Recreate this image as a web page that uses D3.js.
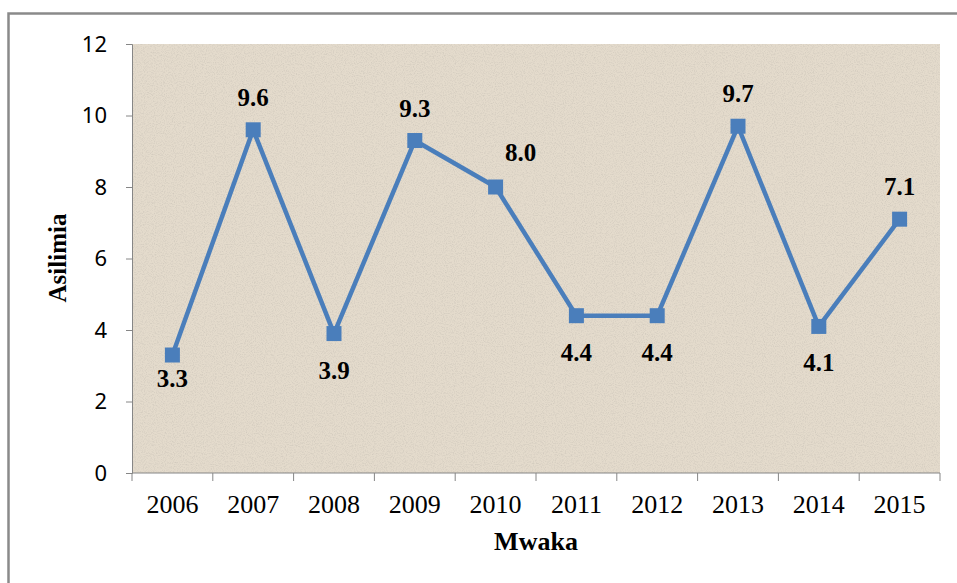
<!DOCTYPE html>
<html>
<head>
<meta charset="utf-8">
<script src="https://cdn.jsdelivr.net/npm/d3@7"></script>
<style>
  body { margin: 0; background: #fff; }
  svg { display: block; }
</style>
</head>
<body>
<div id="chart"></div>
<script>
const width = 957;
const height = 583;

// data
const years = ["2006", "2007", "2008", "2009", "2010", "2011", "2012", "2013", "2014", "2015"];
const values = [3.3, 9.6, 3.9, 9.3, 8.0, 4.4, 4.4, 9.7, 4.1, 7.1];
const labels = ["3.3", "9.6", "3.9", "9.3", "8.0", "4.4", "4.4", "9.7", "4.1", "7.1"];
const labelPos = ["belowNear", "above", "below", "above", "aboveRight", "below", "below", "above", "below", "above"];
const yTicks = [0, 2, 4, 6, 8, 10, 12];

const margin = { left: 132, right: 17, top: 44, bottom: 110 };

const svg = d3.select("#chart")
  .append("svg")
  .attr("width", width)
  .attr("height", height);

// paper texture for the plot area
const defs = svg.append("defs");
const flt = defs.append("filter").attr("id", "grain")
  .attr("x", 0).attr("y", 0).attr("width", 1).attr("height", 1);
flt.append("feTurbulence")
  .attr("type", "fractalNoise")
  .attr("baseFrequency", 0.9)
  .attr("numOctaves", 2)
  .attr("seed", 3)
  .attr("result", "noise");
flt.append("feColorMatrix")
  .attr("in", "noise")
  .attr("type", "matrix")
  .attr("values", "0 0 0 0 0.45  0 0 0 0 0.42  0 0 0 0 0.38  0 0 0 -2.2 1.25")
  .attr("result", "specks");
flt.append("feComposite").attr("in", "specks").attr("in2", "SourceGraphic").attr("operator", "in");

// outer frame
svg.append("rect")
  .attr("x", 8.5).attr("y", 13.5)
  .attr("width", 1000).attr("height", 700)
  .attr("fill", "none")
  .attr("stroke", "#8a8a8a")
  .attr("stroke-width", 2.5);

const x = d3.scaleBand()
  .domain(years)
  .range([margin.left, width - margin.right]);

const y = d3.scaleLinear()
  .domain([0, 12])
  .range([height - margin.bottom, margin.top]);

// plot background
const plotW = x.range()[1] - margin.left;
svg.append("rect")
  .attr("x", margin.left)
  .attr("y", margin.top)
  .attr("width", plotW)
  .attr("height", y(0) - margin.top)
  .attr("fill", "#e4dbcc");
svg.append("rect")
  .attr("x", margin.left)
  .attr("y", margin.top)
  .attr("width", plotW)
  .attr("height", y(0) - margin.top)
  .attr("fill", "#e4dbcc")
  .attr("filter", "url(#grain)")
  .attr("opacity", 0.35);

// y axis
const yAxis = svg.append("g")
  .attr("transform", `translate(${margin.left},0)`)
  .call(d3.axisLeft(y).tickValues(yTicks).tickSize(6).tickPadding(19));
yAxis.selectAll("text")
  .attr("font-family", "'Noto Sans', sans-serif")
  .attr("font-size", 22)
  .attr("fill", "#000");

// x axis
const xAxis = svg.append("g")
  .attr("transform", `translate(0,${y(0)})`)
  .call(d3.axisBottom(x).tickSize(0).tickPadding(22));
xAxis.selectAll("text")
  .attr("font-family", "'Liberation Serif', serif")
  .attr("font-size", 26)
  .attr("fill", "#000");

// ticks between categories
const bounds = years.map(d => x(d)).concat([x.range()[1]]);
xAxis.selectAll("line.bound")
  .data(bounds)
  .enter()
  .append("line")
  .attr("class", "bound")
  .attr("x1", d => d).attr("x2", d => d)
  .attr("y1", 0).attr("y2", 8)
  .attr("stroke", "#868686");

svg.selectAll(".domain, .tick line").attr("stroke", "#868686");
xAxis.select(".domain").attr("d", `M${margin.left},0H${x.range()[1]}`);

// series
const pts = years.map((yr, i) => ({ yr, v: values[i], label: labels[i], pos: labelPos[i] }));

const line = d3.line()
  .x(d => x(d.yr) + x.bandwidth() / 2)
  .y(d => y(d.v));

svg.append("path")
  .datum(pts)
  .attr("d", line)
  .attr("fill", "none")
  .attr("stroke", "#4a7ebb")
  .attr("stroke-width", 4.5)
  .attr("stroke-linejoin", "round");

svg.selectAll("rect.marker")
  .data(pts)
  .enter()
  .append("rect")
  .attr("class", "marker")
  .attr("x", d => x(d.yr) + x.bandwidth() / 2 - 7.5)
  .attr("y", d => y(d.v) - 7.5)
  .attr("width", 15)
  .attr("height", 15)
  .attr("fill", "#4a7ebb");

// data labels
const dyOf = { above: -24, aboveRight: -26, below: 45, belowNear: 32 };
svg.selectAll("text.lbl")
  .data(pts)
  .enter()
  .append("text")
  .attr("class", "lbl")
  .attr("x", d => x(d.yr) + x.bandwidth() / 2 + (d.pos === "aboveRight" ? 25 : 0))
  .attr("y", d => y(d.v) + dyOf[d.pos])
  .attr("text-anchor", "middle")
  .attr("font-family", "'Liberation Serif', serif")
  .attr("font-weight", "bold")
  .attr("font-size", 25)
  .text(d => d.label);

// axis titles
svg.append("text")
  .attr("transform", `translate(66,258) rotate(-90)`)
  .attr("text-anchor", "middle")
  .attr("font-family", "'Liberation Serif', serif")
  .attr("font-weight", "bold")
  .attr("font-size", 25)
  .text("Asilimia");

svg.append("text")
  .attr("x", (margin.left + x.range()[1]) / 2)
  .attr("y", 550)
  .attr("text-anchor", "middle")
  .attr("font-family", "'Liberation Serif', serif")
  .attr("font-weight", "bold")
  .attr("font-size", 26)
  .text("Mwaka");
</script>
</body>
</html>
